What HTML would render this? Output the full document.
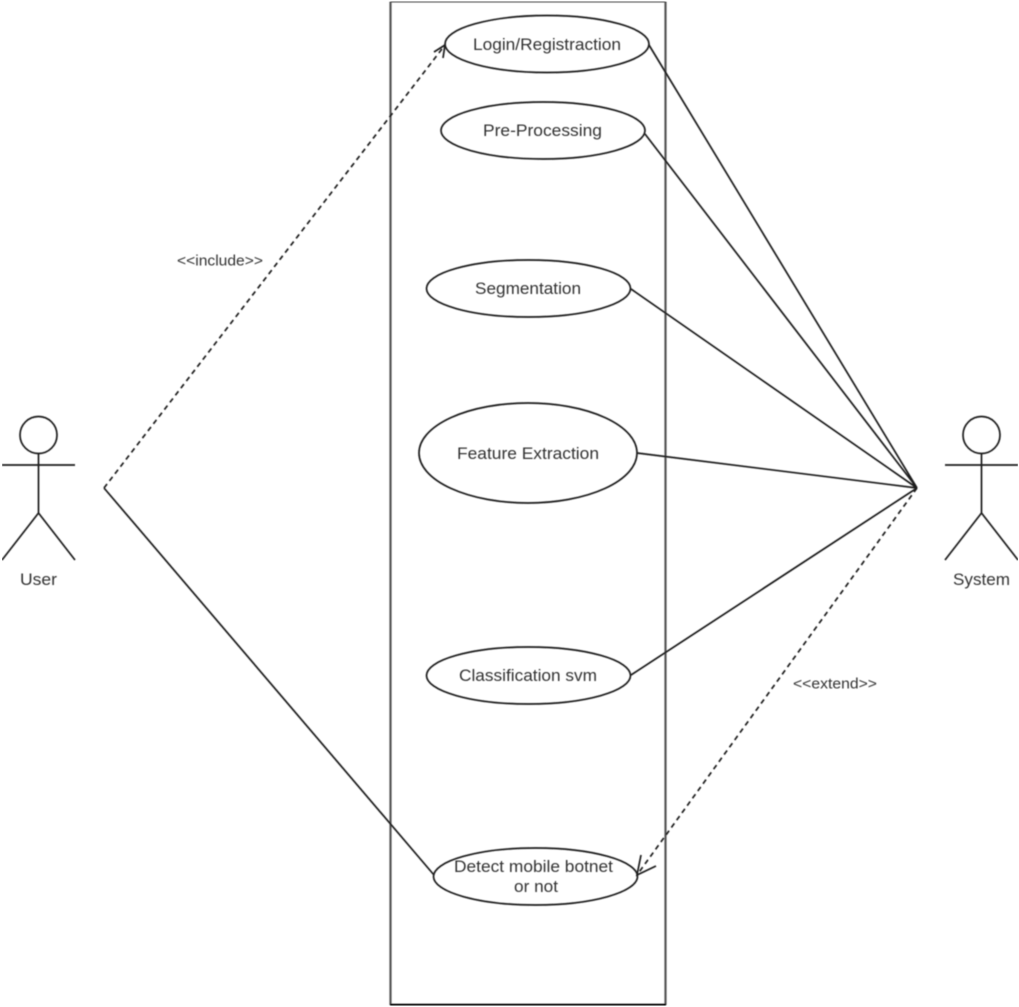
<!DOCTYPE html>
<html><head><meta charset="utf-8"><style>
html,body{margin:0;padding:0;background:#fff;width:1019px;height:1007px;overflow:hidden}
svg{display:block}
text{font-family:"Liberation Sans",sans-serif;fill:#333;text-anchor:middle}
</style></head><body>
<svg width="1019" height="1007" viewBox="0 0 1019 1007" xmlns="http://www.w3.org/2000/svg">
<defs><filter id="b" x="0" y="0" width="100%" height="100%"><feGaussianBlur stdDeviation="0.4"/></filter></defs>
<rect width="1019" height="1007" fill="#fff"/>
<g filter="url(#b)">
<g fill="none" stroke="#1c1c1c" stroke-width="1.7">
<path d="M390.5 1.5H665.5" stroke="#333"/>
<path d="M390.5 1.5V1005" stroke="#555" stroke-width="2.2"/>
<path d="M665.5 1.5V1005" stroke="#555" stroke-width="2.2"/>
<path d="M390 1005.5H666" stroke="#000" stroke-width="3.6"/>
<ellipse cx="547" cy="44" rx="102" ry="28.5"/>
<ellipse cx="543" cy="130.5" rx="102" ry="28.5"/>
<ellipse cx="528.5" cy="288.5" rx="102" ry="28.5"/>
<ellipse cx="528" cy="453" rx="109" ry="50"/>
<ellipse cx="528.5" cy="675.5" rx="102" ry="28.5"/>
<ellipse cx="535.5" cy="876.5" rx="102" ry="28.5"/>
<path d="M649 45L917 488M645 134L917 488M631 289L917 488M637 453L917 488M631 675L917 488"/>
<path d="M104 488L434 875"/>
<path d="M104 488L445 45" stroke-dasharray="5 4"/>
<path d="M434 52L445 45L443 58"/>
<path d="M917 488L637 875" stroke-dasharray="5 4"/>
<path d="M641 855L637 875L656 866"/>
<circle cx="38.5" cy="435" r="18.5"/>
<path d="M38.5 453V513M2 465H75M38.5 513L2 560M38.5 513L75 560"/>
<circle cx="981.5" cy="435" r="18.5"/>
<path d="M981.5 453V513M945 465H1018M981.5 513L945 560M981.5 513L1018 560"/>
</g>
<g font-size="17">
<text x="547" y="50" textLength="148" lengthAdjust="spacingAndGlyphs">Login/Registraction</text>
<text x="542.5" y="136" textLength="119" lengthAdjust="spacingAndGlyphs">Pre-Processing</text>
<text x="528" y="294" textLength="106" lengthAdjust="spacingAndGlyphs">Segmentation</text>
<text x="528" y="459" textLength="142" lengthAdjust="spacingAndGlyphs">Feature Extraction</text>
<text x="528" y="681" textLength="138" lengthAdjust="spacingAndGlyphs">Classification svm</text>
<text x="533.5" y="872" textLength="159" lengthAdjust="spacingAndGlyphs">Detect mobile botnet</text>
<text x="536" y="892" textLength="44" lengthAdjust="spacingAndGlyphs">or not</text>
<text x="38.5" y="585" textLength="37" lengthAdjust="spacingAndGlyphs">User</text>
<text x="981.5" y="585" textLength="57" lengthAdjust="spacingAndGlyphs">System</text>
</g>
<g font-size="14.5">
<text x="220" y="265.5" textLength="86" lengthAdjust="spacingAndGlyphs">&lt;&lt;include&gt;&gt;</text>
<text x="835" y="688.5" textLength="84" lengthAdjust="spacingAndGlyphs">&lt;&lt;extend&gt;&gt;</text>
</g>
</g>
</svg>
</body></html>
